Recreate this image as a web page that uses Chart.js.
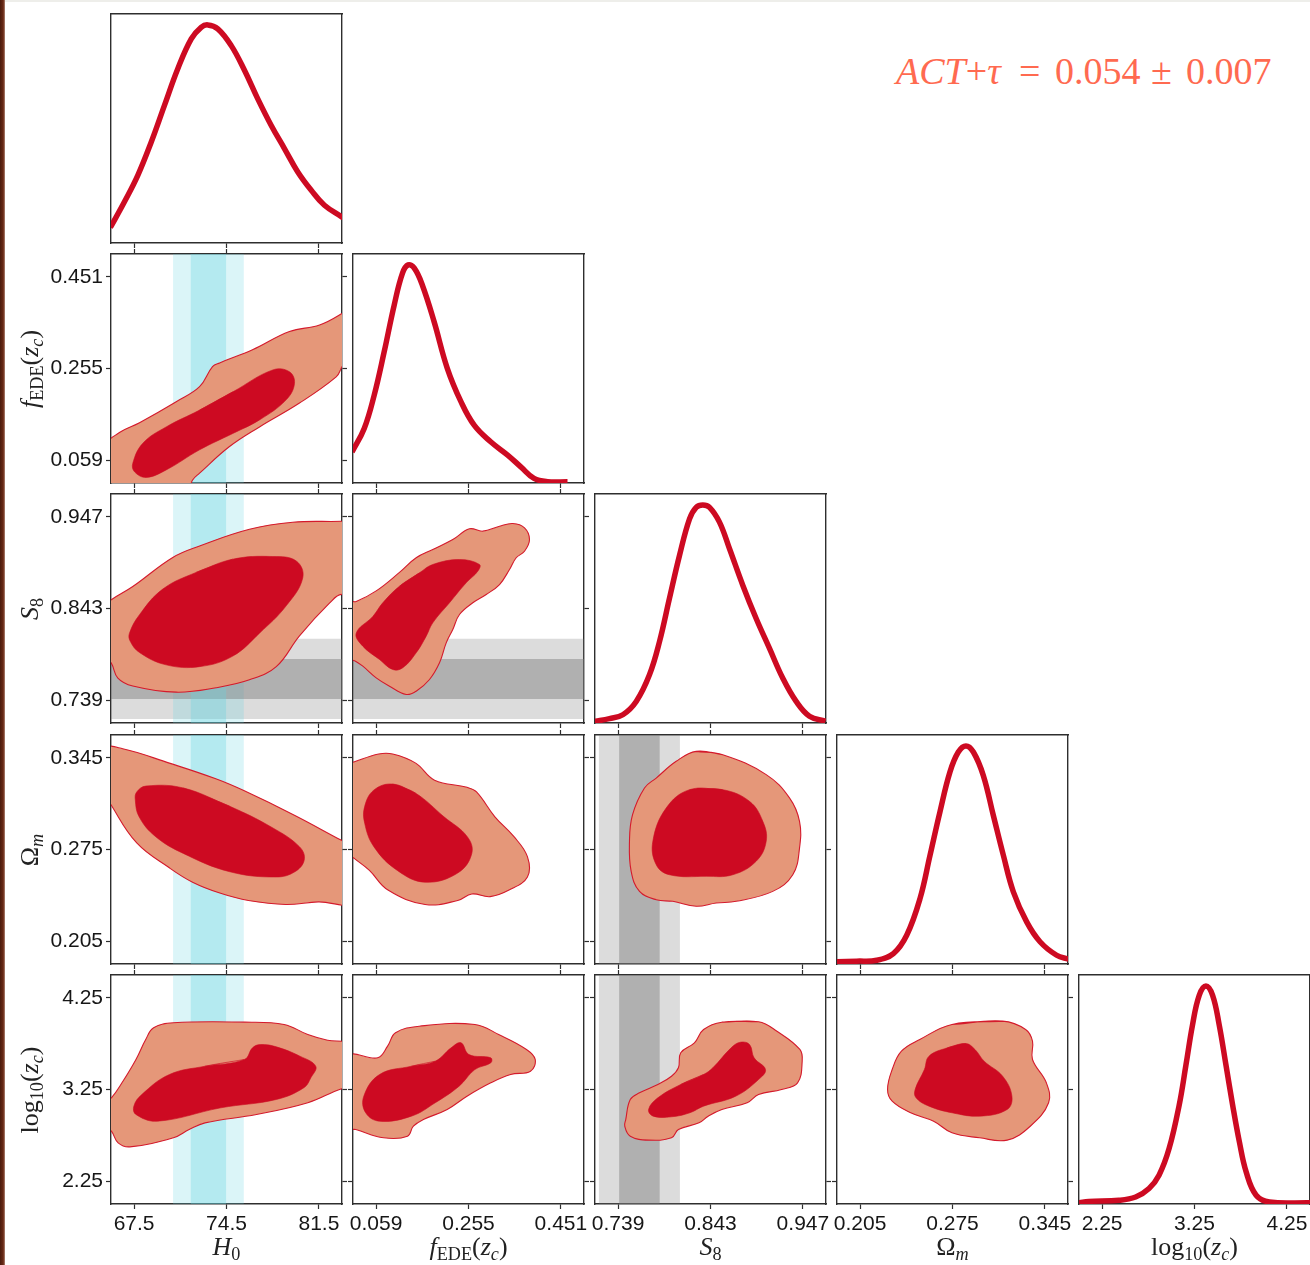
<!DOCTYPE html>
<html lang="en">
<head>
<meta charset="UTF-8">
<title>EDE posterior triangle</title>
<script src="https://cdn.jsdelivr.net/npm/chart.js@4.4.1/dist/chart.umd.min.js"></script>
<style>
  html, body { margin: 0; padding: 0; background: #fff; }
  body { position: relative; width: 1310px; height: 1265px; overflow: hidden; }
  canvas.panel { position: absolute; }
  .edge { position: absolute; left: 0; top: 0; width: 5px; height: 1265px;
          background: linear-gradient(to right, #4a1a0c, #6a2a16 65%, #b08878); }
  .topline { position: absolute; left: 5px; top: 0; width: 1305px; height: 2px; background: #eeeeea; }
  .axis-title { position: absolute; font-family: 'Liberation Serif', serif; font-size: 26px;
                line-height: 1; color: #222; white-space: nowrap; transform: translate(-50%, -50%); }
  .axis-title.rot { transform: translate(-50%, -50%) rotate(-90deg); }
  .axis-title sub { font-size: 0.7em; vertical-align: -0.28em; line-height: 0; }
  .act { position: absolute; top: 52px; font-family: 'Liberation Serif', serif;
         font-size: 38px; line-height: 1; color: #ff6a50; white-space: nowrap; }
</style>
</head>
<body>
<div class="edge"></div>
<div class="topline"></div>
<span class="act" style="left:896px"><i>ACT</i>+<i>τ</i></span>
<span class="act" style="left:1019px">=</span>
<span class="act" style="left:1055px">0.054</span>
<span class="act" style="left:1151px">±</span>
<span class="act" style="left:1186px">0.007</span>

<script>
// ---- ticks ----
const H0_TICKS = [67.5, 74.5, 81.5];
const FEDE_TICKS = [0.059, 0.255, 0.451];
const S8_TICKS = [0.739, 0.843, 0.947];
const OMM_TICKS = [0.205, 0.275, 0.345];
const LOGZ_TICKS = [2.25, 3.25, 4.25];
const H0_TICK_LABELS = ['67.5', '74.5', '81.5'];
const FEDE_TICK_LABELS = ['0.059', '0.255', '0.451'];
const S8_TICK_LABELS = ['0.739', '0.843', '0.947'];
const OMM_TICK_LABELS = ['0.205', '0.275', '0.345'];
const LOGZ_TICK_LABELS = ['2.25', '3.25', '4.25'];

// ---- external priors [mean, sigma] ----
const H0_PRIOR = [73.13, 1.34];
const S8_PRIOR = [0.763, 0.0228];

// ---- 1D marginals (normalised to peak) ----
const H0_GRID = [65.7, 66.77, 67.78, 68.80, 69.80, 70.81, 71.83, 72.58, 73.08, 73.84, 74.86, 75.87, 76.87, 77.89, 78.90, 79.90, 80.92, 81.92, 83.23, 83.4];
const H0_PDF = [0.071, 0.189, 0.310, 0.463, 0.631, 0.799, 0.936, 0.989, 1.0, 0.982, 0.905, 0.791, 0.661, 0.539, 0.432, 0.326, 0.242, 0.173, 0.120, 0.114];
const FEDE_GRID = [0.008, 0.0338, 0.055, 0.0762, 0.0974, 0.115, 0.127, 0.140, 0.157, 0.182, 0.210, 0.239, 0.267, 0.302, 0.338, 0.366, 0.394, 0.423, 0.465];
const FEDE_PDF = [0.142, 0.250, 0.403, 0.602, 0.816, 0.962, 1.0, 0.985, 0.908, 0.740, 0.526, 0.373, 0.265, 0.189, 0.128, 0.074, 0.021, 0.006, 0.006];
const S8_GRID = [0.712, 0.7293, 0.7443, 0.7594, 0.7743, 0.7856, 0.7968, 0.8081, 0.8194, 0.8269, 0.8343, 0.8419, 0.8531, 0.8644, 0.8793, 0.8944, 0.9094, 0.9244, 0.9394, 0.9544, 0.9724];
const S8_PDF = [0.007, 0.020, 0.038, 0.099, 0.221, 0.373, 0.571, 0.768, 0.936, 0.989, 1.0, 0.989, 0.921, 0.799, 0.632, 0.479, 0.342, 0.205, 0.099, 0.031, 0.008];
const OMM_GRID = [0.187, 0.2024, 0.2176, 0.2302, 0.2403, 0.2504, 0.2580, 0.2655, 0.2731, 0.2794, 0.2852, 0.2908, 0.2983, 0.3059, 0.3135, 0.3211, 0.3312, 0.3413, 0.3539, 0.363];
const OMM_PDF = [0.010, 0.013, 0.017, 0.048, 0.132, 0.300, 0.499, 0.698, 0.881, 0.972, 1.0, 0.972, 0.865, 0.682, 0.499, 0.331, 0.193, 0.102, 0.040, 0.022];
const LOGZ_GRID = [2.0, 2.105, 2.432, 2.613, 2.758, 2.866, 2.975, 3.084, 3.157, 3.228, 3.301, 3.374, 3.446, 3.518, 3.591, 3.663, 3.736, 3.809, 3.917, 4.062, 4.5];
const LOGZ_PDF = [0.006, 0.012, 0.017, 0.032, 0.071, 0.132, 0.254, 0.453, 0.636, 0.820, 0.957, 1.0, 0.957, 0.820, 0.636, 0.453, 0.284, 0.147, 0.040, 0.009, 0.006];

// ---- 2D contours [x, y]: outer = 95%, inner = 68% ----
const FEDE_H0_OUTER = [[65.2,-0.01],[65.2,0.085],[66.39,0.118],[67.91,0.139],[70.69,0.184],[72.46,0.216],[73.44,0.259],[73.98,0.267],[76.47,0.295],[79.27,0.334],[81.55,0.348],[83.21,0.372],[84.0,0.39],[84.0,0.30],[83.2,0.256],[82.81,0.237],[80.03,0.181],[77.0,0.130],[74.73,0.088],[72.46,0.031],[71.92,0.016],[71.5,-0.01]];
const FEDE_H0_INNER = [[72.46,0.166],[74.98,0.205],[78.01,0.252],[79.27,0.248],[79.65,0.223],[79.02,0.188],[77.0,0.145],[74.98,0.116],[72.46,0.081],[69.93,0.038],[68.42,0.022],[67.53,0.034],[67.40,0.052],[68.16,0.095],[69.93,0.130]];

const S8_H0_OUTER = [[65.2,0.79],[65.2,0.845],[65.77,0.853],[67.40,0.868],[70.43,0.901],[72.46,0.914],[76.24,0.933],[79.52,0.941],[83.24,0.942],[84.2,0.943],[84.2,0.85],[83.21,0.859],[82.30,0.849],[80.03,0.812],[78.27,0.777],[76.24,0.762],[73.72,0.753],[70.69,0.748],[67.40,0.755],[66.27,0.764],[65.77,0.781]];
const S8_H0_INNER = [[72.20,0.884],[74.98,0.899],[78.01,0.902],[79.78,0.897],[80.28,0.878],[79.02,0.846],[77.0,0.815],[74.98,0.789],[72.46,0.777],[69.93,0.779],[67.91,0.793],[67.20,0.806],[67.15,0.815],[67.91,0.836],[69.67,0.865]];

const S8_FEDE_OUTER = [[0.0,0.787],[0.0,0.85],[0.0168,0.851],[0.0592,0.863],[0.1086,0.884],[0.144,0.9006],[0.1793,0.910],[0.2217,0.9213],[0.2571,0.9335],[0.2853,0.9308],[0.3208,0.9364],[0.349,0.9395],[0.3738,0.9346],[0.3844,0.9213],[0.3738,0.908],[0.3562,0.9006],[0.342,0.8873],[0.3208,0.8702],[0.2926,0.8589],[0.2641,0.8495],[0.2359,0.8362],[0.2217,0.8192],[0.2077,0.804],[0.1935,0.7813],[0.1723,0.7624],[0.144,0.7491],[0.1229,0.7454],[0.0874,0.7548],[0.0592,0.7643],[0.0308,0.7775],[0.0153,0.7832]];
const S8_FEDE_INNER = [[0.1086,0.8683],[0.151,0.8835],[0.1793,0.893],[0.2359,0.8986],[0.2783,0.893],[0.2747,0.8853],[0.2501,0.8722],[0.2147,0.8495],[0.1793,0.8268],[0.1653,0.8116],[0.144,0.7927],[0.1156,0.7757],[0.0944,0.7737],[0.0662,0.7851],[0.0308,0.8002],[0.0168,0.815],[0.052,0.834],[0.0732,0.8495]];

const OMM_H0_OUTER = [[65.2,0.32],[65.2,0.352],[66.64,0.352],[70.17,0.341],[73.69,0.329],[75.81,0.320],[79.68,0.301],[83.21,0.282],[84.2,0.277],[84.2,0.235],[81.45,0.235],[78.98,0.233],[76.16,0.236],[74.05,0.2415],[71.93,0.250],[70.17,0.261],[67.70,0.280],[65.76,0.309]];
const OMM_H0_INNER = [[71.23,0.322],[74.75,0.308],[77.92,0.292],[80.04,0.277],[80.39,0.267],[79.68,0.258],[78.27,0.254],[74.75,0.258],[71.23,0.272],[69.11,0.285],[67.88,0.300],[67.59,0.313],[67.70,0.319],[68.40,0.3235]];

const OMM_FEDE_OUTER = [[0.0,0.272],[0.0,0.340],[0.0132,0.342],[0.0645,0.348],[0.0942,0.348],[0.143,0.341],[0.183,0.328],[0.252,0.3225],[0.272,0.319],[0.311,0.300],[0.351,0.285],[0.380,0.2695],[0.380,0.254],[0.341,0.244],[0.301,0.239],[0.262,0.241],[0.232,0.236],[0.163,0.233],[0.0842,0.244],[0.0448,0.259],[0.0132,0.268]];
const OMM_FEDE_INNER = [[0.0942,0.325],[0.143,0.318],[0.203,0.300],[0.252,0.285],[0.262,0.272],[0.232,0.257],[0.163,0.250],[0.104,0.259],[0.0545,0.277],[0.0348,0.295],[0.0348,0.308],[0.0545,0.3205]];

const OMM_S8_OUTER = [[0.8269,0.350],[0.8568,0.3474],[0.9057,0.3322],[0.9319,0.3144],[0.9432,0.2965],[0.9432,0.2761],[0.9356,0.2557],[0.9131,0.243],[0.8719,0.2354],[0.8494,0.2341],[0.8269,0.2316],[0.8006,0.2354],[0.7819,0.2366],[0.7631,0.243],[0.7537,0.2583],[0.7518,0.2813],[0.7552,0.3014],[0.7687,0.322],[0.7819,0.3296],[0.8044,0.3424]];
const OMM_S8_INNER = [[0.8194,0.3207],[0.8568,0.3207],[0.8869,0.3118],[0.9019,0.2965],[0.9057,0.2813],[0.8944,0.2660],[0.8681,0.2557],[0.8382,0.2545],[0.7968,0.2557],[0.7819,0.2634],[0.7781,0.2813],[0.7931,0.3067]];

const LOGZ_H0_OUTER = [[65.2,2.87],[65.2,3.10],[65.78,3.159],[66.58,3.323],[67.64,3.578],[68.38,3.796],[68.98,3.924],[70.48,3.978],[75.86,3.985],[78.86,3.960],[80.66,3.850],[82.16,3.788],[83.23,3.777],[84.2,3.77],[84.2,3.27],[83.23,3.258],[80.66,3.105],[76.77,2.977],[72.87,2.886],[71.67,2.813],[70.48,2.723],[67.18,2.624],[66.29,2.668],[65.78,2.795]];
const LOGZ_H0_INNER = [[72.87,3.504],[75.86,3.578],[76.47,3.705],[77.07,3.741],[78.27,3.716],[80.06,3.614],[81.26,3.504],[80.9,3.38],[80.36,3.269],[78.27,3.141],[74.07,3.050],[69.28,2.904],[67.64,2.977],[67.48,3.068],[68.08,3.195],[70.18,3.414]];

const LOGZ_FEDE_OUTER = [[0.0,2.83],[0.0,3.607],[0.0624,3.596],[0.0834,3.723],[0.1002,3.869],[0.1506,3.941],[0.2686,3.960],[0.319,3.850],[0.378,3.687],[0.3965,3.578],[0.3865,3.450],[0.3443,3.414],[0.3023,3.323],[0.2518,3.177],[0.2098,3.032],[0.1593,2.922],[0.1381,2.849],[0.1256,2.740],[0.0749,2.723],[0.0159,2.813]];
const LOGZ_FEDE_INNER = [[0.1339,3.504],[0.1844,3.559],[0.2181,3.705],[0.2391,3.760],[0.2559,3.632],[0.3023,3.596],[0.3023,3.541],[0.2686,3.468],[0.2351,3.286],[0.1844,3.105],[0.1339,2.959],[0.0664,2.904],[0.0369,2.996],[0.0329,3.177],[0.0664,3.414]];

const LOGZ_S8_OUTER = [[0.8558,3.985],[0.8971,3.989],[0.9178,3.886],[0.9436,3.687],[0.9462,3.559],[0.941,3.323],[0.923,3.250],[0.8971,3.195],[0.8843,3.105],[0.8558,3.032],[0.8404,2.959],[0.8301,2.886],[0.8069,2.813],[0.7991,2.723],[0.7733,2.697],[0.7527,2.740],[0.7465,2.849],[0.7476,2.922],[0.7527,3.141],[0.7631,3.214],[0.7837,3.305],[0.7991,3.395],[0.8069,3.487],[0.8095,3.651],[0.8249,3.760],[0.8352,3.905]];
const LOGZ_S8_INNER = [[0.8095,3.305],[0.8352,3.414],[0.8456,3.487],[0.8662,3.705],[0.8765,3.766],[0.8869,3.741],[0.8921,3.596],[0.9049,3.468],[0.8971,3.359],[0.8714,3.177],[0.8352,3.068],[0.8198,2.996],[0.7991,2.952],[0.7785,2.959],[0.7733,3.032],[0.7837,3.159]];

const LOGZ_OMM_OUTER = [[0.2746,3.960],[0.313,3.996],[0.3304,3.905],[0.3356,3.777],[0.3356,3.578],[0.3461,3.323],[0.3478,3.105],[0.3339,2.849],[0.3164,2.697],[0.2955,2.723],[0.2746,2.777],[0.2607,2.904],[0.2433,2.996],[0.2293,3.122],[0.2258,3.250],[0.2293,3.468],[0.2363,3.668],[0.2502,3.796]];
const LOGZ_OMM_INNER = [[0.2711,3.705],[0.2851,3.752],[0.2920,3.687],[0.2990,3.559],[0.313,3.395],[0.32,3.177],[0.3164,3.032],[0.2955,2.959],[0.2746,2.996],[0.2572,3.068],[0.2474,3.159],[0.2467,3.250],[0.2537,3.468],[0.2572,3.614]];

// ---- layout ----
const PANEL_W = 231, PANEL_H = 229;
const COL_X = [111, 353, 595, 837, 1079];
const ROW_Y = [14, 254, 494, 735, 975];
const ML = 75, MR = 20, MT = 20, MB = 60;

const RED = '#cd0a22';
const SALMON = '#e59779';
const EDGE = '#d41a2c';
const AXIS_COLOR = '#2e2e2e';
const TEXT_COLOR = '#161616';
const CYAN = '100,210,225';
const GREY = '120,120,120';

const PARAMS = [
  { ticks: H0_TICKS, labels: H0_TICK_LABELS, grid: H0_GRID, pdf: H0_PDF, prior: H0_PRIOR, tint: CYAN, alpha: [0.23, 0.32],
    title: '<i>H</i><sub>0</sub>' },
  { ticks: FEDE_TICKS, labels: FEDE_TICK_LABELS, grid: FEDE_GRID, pdf: FEDE_PDF,
    title: '<i>f</i><sub>EDE</sub>(<i>z</i><sub><i>c</i></sub>)' },
  { ticks: S8_TICKS, labels: S8_TICK_LABELS, grid: S8_GRID, pdf: S8_PDF, prior: S8_PRIOR, tint: GREY, alpha: [0.26, 0.44],
    title: '<i>S</i><sub>8</sub>' },
  { ticks: OMM_TICKS, labels: OMM_TICK_LABELS, grid: OMM_GRID, pdf: OMM_PDF,
    title: 'Ω<sub><i>m</i></sub>' },
  { ticks: LOGZ_TICKS, labels: LOGZ_TICK_LABELS, grid: LOGZ_GRID, pdf: LOGZ_PDF,
    title: 'log<sub>10</sub>(<i>z</i><sub><i>c</i></sub>)' }
];

const CONTOURS = {
  '1,0': [FEDE_H0_OUTER, FEDE_H0_INNER],
  '2,0': [S8_H0_OUTER, S8_H0_INNER],
  '2,1': [S8_FEDE_OUTER, S8_FEDE_INNER],
  '3,0': [OMM_H0_OUTER, OMM_H0_INNER],
  '3,1': [OMM_FEDE_OUTER, OMM_FEDE_INNER],
  '3,2': [OMM_S8_OUTER, OMM_S8_INNER],
  '4,0': [LOGZ_H0_OUTER, LOGZ_H0_INNER],
  '4,1': [LOGZ_FEDE_OUTER, LOGZ_FEDE_INNER],
  '4,2': [LOGZ_S8_OUTER, LOGZ_S8_INNER],
  '4,3': [LOGZ_OMM_OUTER, LOGZ_OMM_INNER]
};

const toXY = ([x, y]) => ({ x, y });
// closed outline: repeat the first two points so the spline joins smoothly
const ring = pts => pts.concat([pts[0], pts[1]]).map(toXY);

function axisRange(ticks) {
  const step = ticks[1] - ticks[0];
  return [ticks[0] - step / 4, ticks[2] + step / 4];
}

// fills closed dataset outlines (contours, prior bands) under their stroke
const closedFill = {
  id: 'closedFill',
  beforeDatasetDraw(chart, args) {
    const ds = chart.data.datasets[args.index];
    if (!ds.areaColor) return;
    const line = args.meta.dataset;
    const ctx = chart.ctx, area = chart.chartArea;
    line.updateControlPoints(area, 'x');
    ctx.save();
    ctx.beginPath();
    ctx.rect(area.left, area.top, area.right - area.left, area.bottom - area.top);
    ctx.clip();
    ctx.beginPath();
    line.path(ctx);
    ctx.closePath();
    ctx.fillStyle = ds.areaColor;
    ctx.fill();
    ctx.restore();
  }
};

function makeScale(axis, position, range, tickVals, labels, showLabels, size) {
  return {
    type: 'linear', axis, position, min: range[0], max: range[1],
    afterBuildTicks: s => { s.ticks = tickVals.map(v => ({ value: v })); },
    afterFit: s => { if (axis === 'x') s.height = size; else s.width = size; },
    grid: { drawOnChartArea: false, drawTicks: tickVals.length > 0, tickLength: 5, tickWidth: 1.2,
            color: AXIS_COLOR, tickColor: AXIS_COLOR },
    border: { display: true, color: AXIS_COLOR, width: 1.4 },
    ticks: { display: showLabels, autoSkip: false, maxRotation: 0, minRotation: 0, padding: 3,
             color: TEXT_COLOR, font: { family: 'Liberation Sans', size: 21 },
             callback: (v, i) => (labels ? labels[i] : '') }
  };
}

function priorBands(prior, vertical, span, tint, alpha) {
  const [mu, sd] = prior;
  return [2, 1].map((k, i) => {
    const lo = mu - k * sd, hi = mu + k * sd;
    const [a, b] = span;
    const pts = vertical ? [[lo, a], [lo, b], [hi, b], [hi, a]] : [[a, lo], [b, lo], [b, hi], [a, hi]];
    return { data: pts.map(toXY), areaColor: `rgba(${tint},${alpha[i]})`, borderWidth: 0,
             tension: 0, clip: 0, order: 6 - i };
  });
}

function makePanel(row, col) {
  const canvas = document.createElement('canvas');
  canvas.className = 'panel';
  canvas.width = ML + PANEL_W + MR;
  canvas.height = MT + PANEL_H + MB;
  canvas.style.left = (COL_X[col] - ML) + 'px';
  canvas.style.top = (ROW_Y[row] - MT) + 'px';
  document.body.appendChild(canvas);

  const px = PARAMS[col], py = PARAMS[row];
  const xr = axisRange(px.ticks);
  const diag = row === col;
  const yr = diag ? [0, 1.05] : axisRange(py.ticks);
  const yTicks = diag ? [] : py.ticks;
  const datasets = [];

  if (diag) {
    datasets.push({
      data: px.grid.map((x, i) => ({ x, y: px.pdf[i] })),
      borderColor: RED, borderWidth: 5.5, tension: 0.4,
      borderJoinStyle: 'round', clip: 0, order: 1
    });
  } else {
    const xs = [xr[0] - (xr[1] - xr[0]), xr[1] + (xr[1] - xr[0])];
    const ys = [yr[0] - (yr[1] - yr[0]), yr[1] + (yr[1] - yr[0])];
    if (px.prior) datasets.push(...priorBands(px.prior, true, ys, px.tint, px.alpha));
    if (py.prior) datasets.push(...priorBands(py.prior, false, xs, py.tint, py.alpha));
    const [outer, inner] = CONTOURS[row + ',' + col];
    datasets.push({ data: ring(outer), areaColor: SALMON, borderColor: EDGE, borderWidth: 1.1,
                    tension: 0.4, clip: 0, order: 3 });
    datasets.push({ data: ring(inner), areaColor: RED, borderColor: RED, borderWidth: 0.6,
                    tension: 0.4, clip: 0, order: 2 });
  }

  new Chart(canvas, {
    type: 'line',
    data: { datasets },
    options: {
      responsive: false,
      animation: false,
      events: [],
      layout: { padding: 0 },
      elements: { point: { radius: 0 }, line: { capBezierPoints: false, fill: false } },
      plugins: { legend: { display: false }, tooltip: { enabled: false } },
      scales: {
        x: makeScale('x', 'bottom', xr, px.ticks, px.labels, row === 4, MB),
        y: makeScale('y', 'left', yr, yTicks, py.labels, col === 0 && !diag, ML),
        x2: makeScale('x', 'top', xr, diag ? [] : px.ticks, null, false, MT),
        y2: makeScale('y', 'right', yr, yTicks, null, false, MR)
      }
    },
    plugins: [closedFill]
  });
}

for (let r = 0; r < 5; r++) {
  for (let c = 0; c <= r; c++) makePanel(r, c);
}

// axis titles
PARAMS.forEach((p, i) => {
  const b = document.createElement('div');
  b.className = 'axis-title';
  b.innerHTML = p.title;
  b.style.left = (COL_X[i] + PANEL_W / 2) + 'px';
  b.style.top = '1247px';
  document.body.appendChild(b);
  if (i > 0) {
    const l = document.createElement('div');
    l.className = 'axis-title rot';
    l.innerHTML = p.title;
    l.style.left = '30px';
    l.style.top = (ROW_Y[i] + PANEL_H / 2) + 'px';
    document.body.appendChild(l);
  }
});
</script>
</body>
</html>
